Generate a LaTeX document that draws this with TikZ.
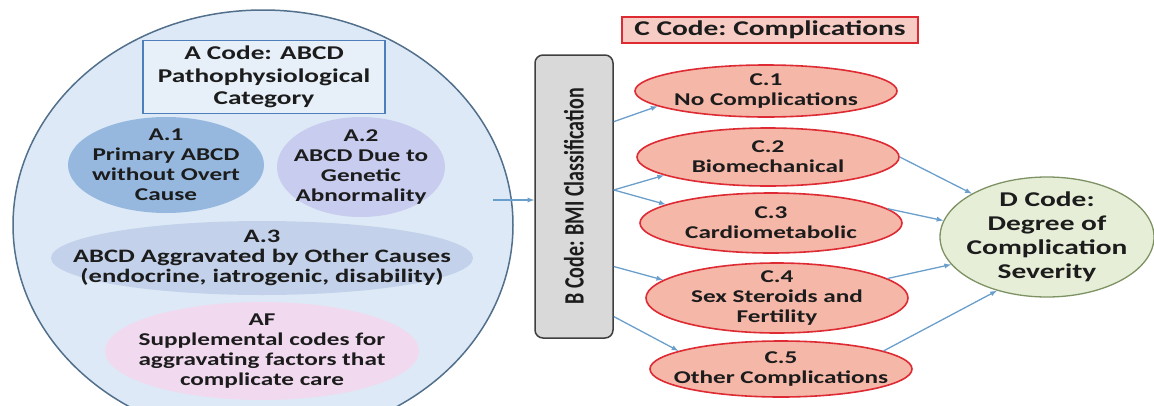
\documentclass[tikz,border=0pt]{standalone}
\usepackage{xcolor}
\usepackage{graphicx}
\usepackage{fontspec}
\newfontfamily\wideb{Carlito}[FakeStretch=1.4]
\newfontfamily\plainb{Carlito}
\usepackage{tikz}
\usetikzlibrary{calc}
\usetikzlibrary{arrows}
\usetikzlibrary{arrows.meta}
\usetikzlibrary{shapes.geometric}
\definecolor{outerfill}{HTML}{DDE9F6}
\definecolor{outerline}{HTML}{52708C}
\definecolor{boxblue}{HTML}{4F7EBD}
\definecolor{aone}{HTML}{96B8DF}
\definecolor{atwo}{HTML}{C8CCEE}
\definecolor{athree}{HTML}{C3D2EA}
\definecolor{afpink}{HTML}{F1DAF0}
\definecolor{bgray}{HTML}{D9D9D9}
\definecolor{bdark}{HTML}{3F3F3F}
\definecolor{compred}{HTML}{DD2A33}
\definecolor{compfill}{HTML}{F4B7A8}
\definecolor{titlepink}{HTML}{F6CCC4}
\definecolor{dfill}{HTML}{E6EED8}
\definecolor{dline}{HTML}{7D9162}
\definecolor{arrowblue}{HTML}{6A9FCC}
\definecolor{textdark}{HTML}{1C1C1C}
\tikzset{>=latex}
\tikzstyle{txt} = [align=center, inner sep=0pt, text=textdark, font=\wideb\bfseries\fontsize{18}{20}\selectfont]
\tikzstyle{sub} = [ellipse, inner sep=0pt]
\tikzstyle{comp} = [sub, draw=compred, line width=1.6pt, fill=compfill, minimum width=262pt]
\tikzstyle{flow} = [-latex, draw=arrowblue, line width=1.3pt]

\begin{document}
\begin{tikzpicture}[x=1pt, y=-1pt]
\useasboundingbox (0,0) rectangle (1154,405);
\begin{scope}
\clip (0,0) rectangle (1154,405);
\node [sub, draw=outerline, line width=1.5pt, fill=outerfill, minimum width=500pt, minimum height=430pt] (Aall) at (263,225) {};
\end{scope}
\node [rectangle, draw=boxblue, line width=1.6pt, fill=outerfill!70!white, minimum width=242pt, minimum height=73pt] (Atitle) at (264,77) {};
\node [txt, font=\wideb\bfseries\fontsize{19.5}{22.5}\selectfont] (Atitlet) at (Atitle) {A Code: ABCD\\Pathophysiological\\Category};
\node [sub, fill=aone, minimum width=196pt, minimum height=96pt] (A1) at (166,165) {};
\node [txt] (A1t) at (A1) {A.1\\Primary ABCD\\without Overt\\Cause};
\node [sub, fill=atwo, minimum width=168pt, minimum height=100pt] (A2) at (361,167) {};
\node [txt] (A2t) at (A2) {A.2\\ABCD Due to\\Genetic\\Abnormality};
\node [sub, fill=athree, minimum width=422pt, minimum height=74pt] (A3) at (262,258) {};
\node [txt, font=\wideb\bfseries\fontsize{19}{20}\selectfont] (A3t) at (A3) {A.3\\ABCD Aggravated by Other Causes\\(endocrine, iatrogenic, disability)};
\node [sub, fill=afpink, minimum width=314pt, minimum height=98pt] (AF) at (262,351) {};
\node [txt] (AFt) at (AF) {AF\\Supplemental codes for\\aggravating factors that\\complicate care};

\node [rectangle, rounded corners=8pt, draw=bdark, line width=1.5pt, fill=bgray, minimum width=78pt, minimum height=283pt] (B) at (574,196.5) {};
\node [inner sep=0pt, text=textdark] (Bt) at (B) {\rotatebox{90}{\scalebox{1}[1.4]{\plainb\bfseries\fontsize{20}{24}\selectfont B Code: BMI Classification}}};

\node [rectangle, draw=compred, line width=2.2pt, fill=titlepink, minimum width=296pt, minimum height=26pt] (Ctitle) at (770,30) {};
\node [txt, font=\wideb\bfseries\fontsize{21}{22}\selectfont] (Ctitlet) at (Ctitle) {C Code:\ Complications};
\node [comp, minimum height=52pt] (C1) at (766,91) {};
\node [txt] (C1t) at (C1) {C.1\\No Complications};
\node [comp, minimum height=58pt] (C2) at (768,157) {};
\node [txt] (C2t) at (C2) {C.2\\Biomechanical};
\node [comp, minimum height=60pt] (C3) at (771,223) {};
\node [txt] (C3t) at (C3) {C.3\\Cardiometabolic};
\node [comp, minimum height=70pt] (C4) at (777,298) {};
\node [txt] (C4t) at (C4) {C.4\\Sex Steroids and\\Fertility};
\node [comp, minimum height=56pt] (C5) at (781,369) {};
\node [txt] (C5t) at (C5) {C.5\\Other Complications};

\node [sub, draw=dline, line width=1.3pt, fill=dfill, minimum width=214pt, minimum height=120pt] (D) at (1047,237) {};
\node [txt, font=\wideb\bfseries\fontsize{21}{24}\selectfont] (Dt) at (D) {D Code:\\Degree of\\Complication\\Severity};

% A -> B -> C -> D
\coordinate (Aout) at (493,200);
\draw [flow] (Aout) -- (B.west |- Aout);
\draw [flow] ($(B.north east)!0.237!(B.south east)$) -- (C1.188);
\draw [flow] ($(B.north east)!0.477!(B.south east)$) -- (C2.190);
\draw [flow] ($(B.north east)!0.477!(B.south east)$) -- (C3.170);
\draw [flow] ($(B.north east)!0.746!(B.south east)$) -- (C4.171);
\draw [flow] ($(B.north east)!0.922!(B.south east)$) -- (C5.170);
\draw [flow] (C2.east) -- (D.150);
\draw [flow] (C3.7) -- (D.171);
\draw [flow] (C4.10) -- (D.196);
\draw [flow] (C5.10) -- (D.227);
\end{tikzpicture}
\end{document}
